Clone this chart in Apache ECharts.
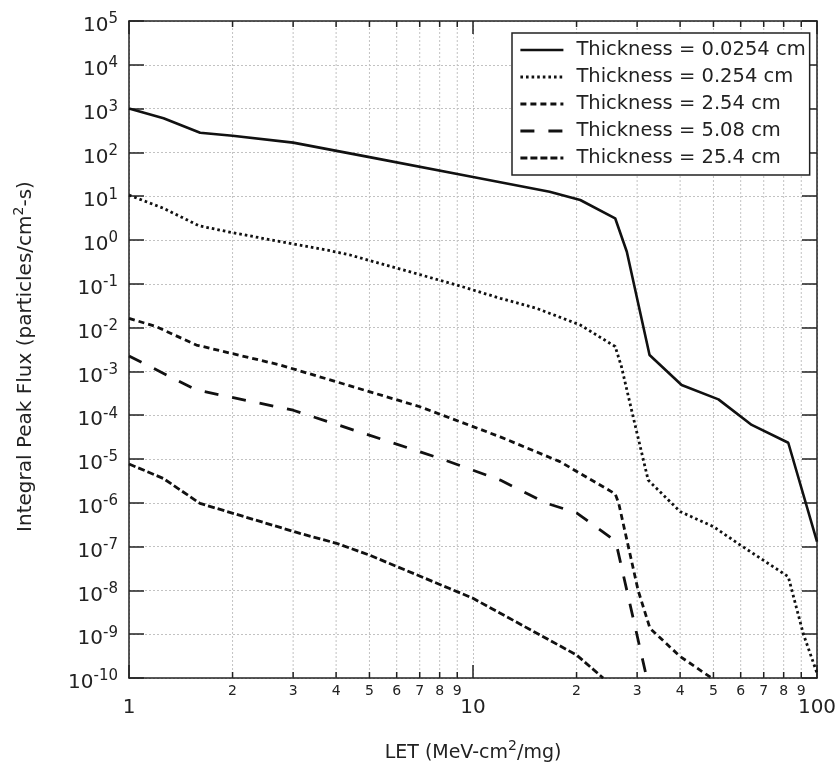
<!DOCTYPE html>
<html>
<head>
<meta charset="utf-8">
<script src="https://cdn.jsdelivr.net/npm/echarts@6/dist/echarts.min.js"></script>
<style>
  html, body { margin: 0; padding: 0; background: #fff; }
  #chart { width: 838px; height: 769px; }
</style>
</head>
<body>
<div id="chart"></div>
<script>
// ---- data (x = LET, y = integral peak flux) ----
const seriesNames = [
  'Thickness = 0.0254 cm',
  'Thickness = 0.254 cm',
  'Thickness = 2.54 cm',
  'Thickness = 5.08 cm',
  'Thickness = 25.4 cm'
];

const let0254 = [1, 1.26, 1.61, 2, 3, 5, 10, 16.7, 20.5, 25.9, 28, 32.6, 40.4, 51.7, 64.6, 82.5, 100];
const flux0254 = [1000, 600, 282, 240, 167, 78, 27.5, 12.7, 8.2, 3.13, 0.54, 2.37e-3, 4.9e-4, 2.3e-4, 6e-5, 2.35e-5, 1.3e-7];

const let254 = [1, 1.26, 1.6, 2, 3, 3.84, 4.39, 8.96, 12, 15.3, 20.5, 25.9, 27, 29.2, 32.3, 40, 50, 59.7, 82.5, 91.3, 100];
const flux254 = [10.6, 5.3, 2.1, 1.47, 0.81, 0.57, 0.455, 0.094, 0.0467, 0.0275, 0.0115, 3.7e-3, 1.3e-3, 9.3e-5, 3.3e-6, 6.3e-7, 2.85e-7, 1.1e-7, 2.06e-8, 1e-9, 1.3e-10];

const let2540 = [1, 1.2, 1.57, 2.75, 7.01, 10, 12, 17.9, 25.9, 26.5, 30.2, 32.7, 40, 49.4];
const flux2540 = [0.0163, 0.0105, 4.0e-3, 1.4e-3, 1.56e-4, 5.5e-5, 3.2e-5, 8.7e-6, 1.6e-6, 1e-6, 1e-8, 1.36e-9, 3.1e-10, 1e-10];

const let5080 = [1, 1.57, 3, 8, 12, 16.4, 20, 25.3, 26.2, 32];
const flux5080 = [2.25e-3, 3.76e-4, 1.3e-4, 1.04e-5, 3.3e-6, 9.7e-7, 5.9e-7, 1.55e-7, 1e-7, 1e-10];

const let25400 = [1, 1.258, 1.608, 3.14, 4.01, 5, 10, 20, 23.9];
const flux25400 = [7.7e-6, 3.6e-6, 9.7e-7, 2.0e-7, 1.19e-7, 6.4e-8, 6.6e-9, 3.35e-10, 1e-10];

const X_MIN = 1, X_MAX = 100;
const Y_MIN = 1e-10, Y_MAX = 1e5;

// minor x ticks (2..9 in each decade) and their labels
const minorTicks = [2, 3, 4, 5, 6, 7, 8, 9, 20, 30, 40, 50, 60, 70, 80, 90];
const minorTickLabels = ['2', '3', '4', '5', '6', '7', '8', '9', '2', '3', '4', '5', '6', '7', '8', '9'];

const FONT = '"DejaVu Sans", Verdana, sans-serif';
const INK = '#222';
const GRID_COLOR = '#c2c2c2';

function pairs(xs, ys) { return xs.map((x, i) => [x, ys[i]]); }

const lineDefs = [
  { x: let0254, y: flux0254, type: 'solid', width: 2.6 },
  { x: let254, y: flux254, type: [2.6, 3], width: 2.8 },
  { x: let2540, y: flux2540, type: [6, 4], width: 2.8 },
  { x: let5080, y: flux5080, type: [14, 14], width: 2.8 },
  { x: let25400, y: flux25400, type: [7, 3], width: 2.8 }
];

const chart = echarts.init(document.getElementById('chart'), null, { renderer: 'canvas' });

const lineSeries = lineDefs.map((d, i) => ({
  name: seriesNames[i],
  type: 'line',
  data: pairs(d.x, d.y),
  symbol: 'none',
  showSymbol: false,
  smooth: false,
  clip: true,
  z: 3,
  silent: true,
  lineStyle: { color: '#111', width: d.width, type: d.type, cap: 'butt' },
  itemStyle: { color: '#111' }
}));

function renderMinor(params, api) {
  const v = api.value(0);
  const b = api.coord([v, Y_MIN]);
  const t = api.coord([v, Y_MAX]);
  return {
    type: 'group',
    children: [
      { type: 'line', shape: { x1: b[0], y1: b[1], x2: t[0], y2: t[1] },
        style: { stroke: GRID_COLOR, lineWidth: 1, lineDash: [2, 2] } },
      { type: 'line', shape: { x1: b[0], y1: b[1], x2: b[0], y2: b[1] - 6 },
        style: { stroke: INK, lineWidth: 1.5 } },
      { type: 'line', shape: { x1: t[0], y1: t[1], x2: t[0], y2: t[1] + 6 },
        style: { stroke: INK, lineWidth: 1.5 } },
      { type: 'text', x: b[0], y: b[1] + 13,
        style: { text: minorTickLabels[params.dataIndex], fill: INK, font: '14px ' + FONT,
                 align: 'center', verticalAlign: 'middle' } }
    ]
  };
}

const supRich = {
  b: { fontSize: 20, fontFamily: FONT, color: INK, lineHeight: 20, padding: [10, 0, 0, 0] },
  s: { fontSize: 15, fontFamily: FONT, color: INK, lineHeight: 15, verticalAlign: 'top', padding: [1, 0, 0, 0] }
};
const nameRich = {
  b: { fontSize: 19, fontFamily: FONT, color: INK, lineHeight: 20, padding: [8, 0, 0, 0] },
  s: { fontSize: 14, fontFamily: FONT, color: INK, lineHeight: 14, verticalAlign: 'top' },
  g: { width: 14, lineHeight: 14 }
};

const axisLineStyle = { show: true, lineStyle: { color: INK, width: 1.5 } };

const option = {
  animation: false,
  backgroundColor: '#fff',
  grid: { left: 129, right: 21, top: 21, bottom: 91, containLabel: false, outerBoundsMode: 'none' },
  legend: {
    data: seriesNames,
    orient: 'vertical',
    left: 512,
    top: 33,
    padding: [7, 4, 7, 7],
    itemWidth: 43,
    itemHeight: 14,
    itemGap: 7,
    backgroundColor: '#fff',
    borderColor: INK,
    borderWidth: 1.5,
    borderRadius: 0,
    selectedMode: false,
    itemStyle: { opacity: 0, borderWidth: 0 },
    lineStyle: { width: 'inherit', type: 'inherit', color: 'inherit' },
    textStyle: { fontSize: 19.5, fontFamily: FONT, color: INK, lineHeight: 20, padding: [0, 0, 0, 8] }
  },
  xAxis: [
    {
      type: 'log', logBase: 10, min: X_MIN, max: X_MAX, interval: 1,
      position: 'bottom',
      name: '{b|LET (MeV-cm}{s|2}{b|/mg)}',
      nameLocation: 'middle', nameGap: 61,
      nameMoveOverlap: false,
      nameTextStyle: { rich: nameRich },
      axisLine: axisLineStyle,
      axisTick: { show: true, inside: true, length: 13, lineStyle: { color: INK, width: 1.5 } },
      minorTick: { show: false },
      axisLabel: {
        show: true, margin: 20, fontSize: 20, fontFamily: FONT, color: INK,
        formatter: v => String(Math.round(v))
      },
      splitLine: { show: true, lineStyle: { color: GRID_COLOR, width: 1, type: [2, 2] } }
    },
    {
      type: 'log', logBase: 10, min: X_MIN, max: X_MAX, interval: 1,
      position: 'top',
      axisLine: axisLineStyle,
      axisTick: { show: true, inside: true, length: 13, lineStyle: { color: INK, width: 1.5 } },
      axisLabel: { show: false },
      splitLine: { show: false }
    }
  ],
  yAxis: [
    {
      type: 'log', logBase: 10, min: Y_MIN, max: Y_MAX, interval: 1,
      position: 'left',
      name: '{b|Integral Peak Flux (particles/cm}{s|2}{b|-s)}{g|}',
      nameLocation: 'middle', nameGap: 97,
      nameMoveOverlap: false,
      nameTextStyle: { rich: { b: Object.assign({}, nameRich.b, { fontSize: 20 }), s: nameRich.s, g: nameRich.g } },
      axisLine: axisLineStyle,
      axisTick: { show: true, inside: true, length: 15, lineStyle: { color: INK, width: 1.5 } },
      axisLabel: {
        show: true, margin: 11,
        formatter: v => '{b|10}{s|' + Math.round(Math.log10(v)) + '}',
        rich: supRich
      },
      splitLine: { show: true, lineStyle: { color: GRID_COLOR, width: 1, type: [2, 2] } }
    },
    {
      type: 'log', logBase: 10, min: Y_MIN, max: Y_MAX, interval: 1,
      position: 'right',
      axisLine: axisLineStyle,
      axisTick: { show: true, inside: true, length: 15, lineStyle: { color: INK, width: 1.5 } },
      axisLabel: { show: false },
      splitLine: { show: false }
    }
  ],
  series: [
    {
      type: 'custom',
      name: 'minorTicks',
      xAxisIndex: 0, yAxisIndex: 0,
      data: minorTicks.map(v => [v, 1]),
      renderItem: renderMinor,
      silent: true,
      clip: false,
      z: 1
    }
  ].concat(lineSeries)
};

chart.setOption(option);
</script>
</body>
</html>
